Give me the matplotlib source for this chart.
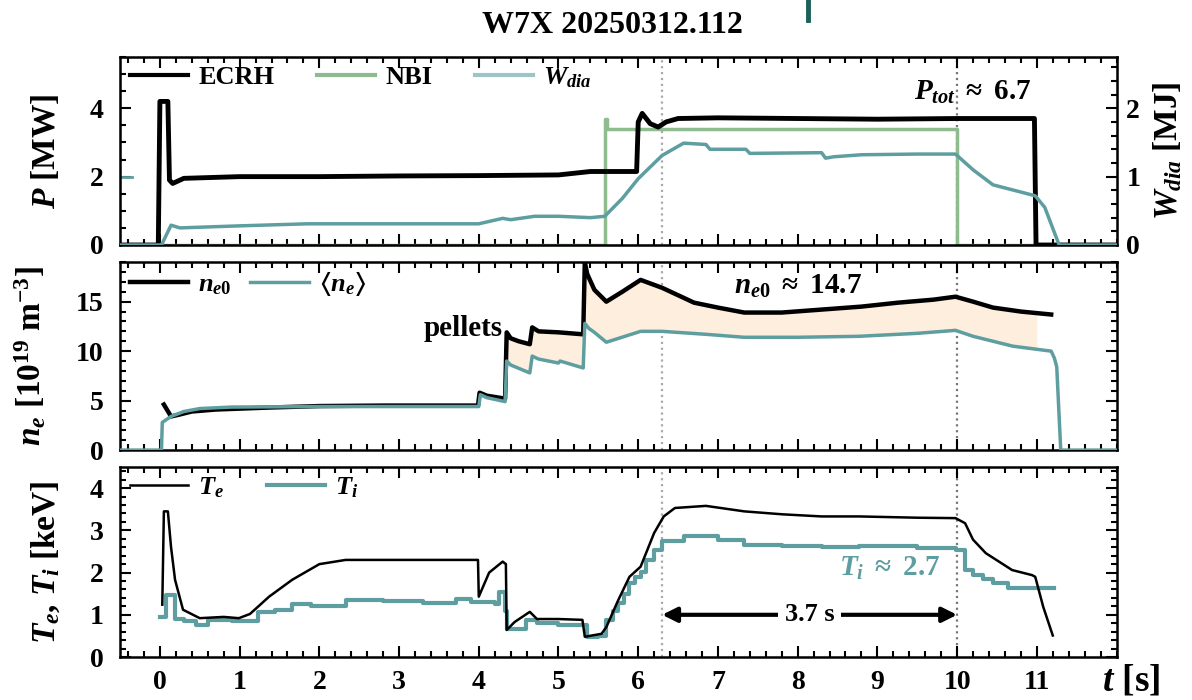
import numpy as np
import matplotlib
matplotlib.use("Agg")
import matplotlib.pyplot as plt
from matplotlib.ticker import MultipleLocator, FixedLocator
from matplotlib.lines import Line2D

plt.rcParams['font.family'] = ['Liberation Serif', 'DejaVu Serif']
plt.rcParams['font.weight'] = 'bold'
plt.rcParams['axes.labelweight'] = 'bold'
plt.rcParams['mathtext.fontset'] = 'custom'
plt.rcParams['mathtext.rm'] = 'Liberation Serif:bold'
plt.rcParams['mathtext.it'] = 'Liberation Serif:italic:bold'
plt.rcParams['mathtext.bf'] = 'Liberation Serif:bold'
plt.rcParams['mathtext.fallback'] = 'stix'

# colours
c_black = 'black'
c_nbi = '#8fbc8f'
c_teal = '#5f9ea0'
c_fill = '#fdeedd'

# ---- top panel: heating power and diamagnetic energy ----
ecrh_t = [-0.5, -0.02, 0.0, 0.05, 0.1, 0.12, 0.16, 0.3, 1.0, 2.0, 3.0, 4.0, 5.0, 5.4, 5.7, 5.98,
          6.0, 6.05, 6.15, 6.25, 6.35, 6.5, 7.0, 8.0, 9.0, 10.0, 10.97, 10.99, 12.0]
ecrh = [0, 0, 4.2, 4.2, 4.2, 1.9, 1.8, 1.95, 2.0, 2.0, 2.02, 2.03, 2.05, 2.15, 2.15, 2.15,
        3.6, 3.85, 3.55, 3.45, 3.6, 3.7, 3.72, 3.7, 3.68, 3.7, 3.7, 0, 0]

nbi_t = [-0.5, 5.58, 5.58, 5.61, 5.61, 10.0, 10.0, 12.0]
nbi = [0, 0, 3.7, 3.7, 3.4, 3.4, 0, 0]

wdia_t = [-0.5, 0.02, 0.14, 0.25, 0.5, 1.0, 1.85, 3.0, 4.0, 4.3, 4.4, 4.7, 5.0, 5.4, 5.58,
          5.8, 6.0, 6.3, 6.57, 6.85, 6.9, 7.35, 7.4, 8.3, 8.35, 8.45, 8.8, 9.5, 9.98,
          10.2, 10.45, 10.98, 11.1, 11.28, 12.0]
wdia = [0, 0, 0.29, 0.25, 0.26, 0.28, 0.31, 0.31, 0.31, 0.39, 0.37, 0.42, 0.42, 0.40, 0.42,
        0.68, 0.97, 1.31, 1.49, 1.47, 1.40, 1.40, 1.34, 1.35, 1.27, 1.29, 1.32, 1.33, 1.33,
        1.10, 0.88, 0.72, 0.55, 0, 0]

# ---- middle panel: densities ----
ne0_t = [0.05, 0.14, 0.25, 0.4, 0.7, 1.37, 2.0, 2.8, 3.5, 3.99, 4.01, 4.1, 4.33, 4.35, 4.4,
         4.5, 4.64, 4.67, 4.75, 5.0, 5.31, 5.33, 5.36, 5.45, 5.6, 5.8, 6.03, 6.3, 6.7, 7.0,
         7.33, 7.8, 8.3, 8.8, 9.26, 9.7, 9.98, 10.2, 10.45, 10.8, 11.18]
ne0 = [4.6, 3.4, 3.6, 3.9, 4.1, 4.3, 4.45, 4.5, 4.5, 4.5, 5.8, 5.5, 5.2, 11.9, 11.3,
       11.0, 10.7, 12.4, 12.0, 11.9, 11.7, 19.0, 17.8, 16.2, 15.0, 16.0, 17.2, 16.4, 14.9, 14.4,
       13.9, 13.9, 14.2, 14.5, 14.9, 15.2, 15.5, 15.0, 14.4, 14.0, 13.7]

nea_t = [-0.5, 0.02, 0.03, 0.14, 0.3, 0.5, 0.9, 2.0, 3.0, 4.0, 4.02, 4.1, 4.33, 4.35, 4.4,
         4.64, 4.67, 4.75, 5.0, 5.02, 5.31, 5.33, 5.38, 5.45, 5.6, 6.03, 6.3, 6.85, 7.33,
         8.0, 8.77, 9.5, 9.98, 10.2, 10.7, 11.18, 11.22, 11.25, 11.3, 12.0]
nea = [0, 0, 2.8, 3.4, 3.9, 4.2, 4.35, 4.4, 4.4, 4.4, 5.6, 5.3, 4.9, 9.0, 8.6,
       7.8, 9.5, 9.2, 8.8, 9.0, 8.3, 12.8, 12.3, 11.9, 10.9, 12.0, 12.0, 11.7, 11.4,
       11.4, 11.5, 11.8, 12.1, 11.5, 10.5, 10.0, 9.3, 8.4, 0, 0]

fill_start, fill_end = 4.35, 11.0

# ---- bottom panel: temperatures ----
te_t = [0.03, 0.05, 0.1, 0.14, 0.19, 0.29, 0.5, 0.8, 0.99, 1.13, 1.37, 1.66, 2.0, 2.33, 2.8,
        3.3, 3.99, 4.0, 4.13, 4.3, 4.34, 4.35, 4.45, 4.64, 4.73, 5.0, 5.3, 5.33, 5.54, 5.6,
        5.75, 5.89, 6.03, 6.2, 6.32, 6.46, 6.85, 7.33, 7.81, 8.3, 8.77, 9.5, 9.98, 10.1, 10.2,
        10.36, 10.69, 10.94, 10.98, 11.08, 11.2]
te = [1.24, 3.45, 3.45, 2.6, 1.83, 1.12, 0.92, 0.95, 0.92, 1.02, 1.43, 1.83, 2.2, 2.3, 2.3,
      2.3, 2.3, 1.43, 2.0, 2.26, 2.2, 0.64, 0.83, 1.07, 0.9, 0.9, 0.88, 0.48, 0.55, 0.71,
      1.35, 1.9, 2.14, 2.94, 3.33, 3.53, 3.58, 3.45, 3.38, 3.33, 3.33, 3.3, 3.29, 3.17, 2.78,
      2.46, 2.06, 1.94, 1.9, 1.19, 0.51]

ti_t = [0.0, 0.08, 0.19, 0.3, 0.45, 0.6, 0.9, 1.23, 1.45, 1.66, 1.9, 2.33, 2.8, 3.3, 3.72,
        3.9, 4.2, 4.25, 4.33, 4.35, 4.59, 4.73, 5.0, 5.36, 5.5, 5.6, 5.68, 5.75, 5.82, 5.89,
        5.96, 6.03, 6.1, 6.2, 6.3, 6.57, 7.0, 7.33, 7.8, 8.3, 8.77, 9.5, 9.98, 10.1, 10.2,
        10.32, 10.45, 10.64, 11.22]
ti = [0.95, 1.48, 0.9, 0.86, 0.76, 0.87, 0.85, 1.07, 1.12, 1.26, 1.22, 1.36, 1.32, 1.28, 1.38,
      1.3, 1.25, 1.55, 1.1, 0.67, 0.88, 0.8, 0.75, 0.48, 0.5, 0.87, 1.1, 1.27, 1.5, 1.75,
      1.9, 2.02, 2.3, 2.54, 2.74, 2.86, 2.78, 2.66, 2.62, 2.6, 2.62, 2.58, 2.54, 2.06, 1.94,
      1.85, 1.75, 1.63, 1.63]

t_flat0, t_flat1 = 6.3, 10.0   # flat-top window
flat_len = '3.7 s'
ptot_txt = r'$P_{tot}$ $\approx$ 6.7'
ne0_txt = r'$n_{e0}$ $\approx$ 14.7'
ti_txt = r'$T_i$ $\approx$ 2.7'
xticks = list(range(0, 12))

fig = plt.figure(figsize=(11.92, 7.0), dpi=100)
L, W = 0.1007, 0.836
ax1 = fig.add_axes([L, 0.650, W, 0.2686])
ax2 = fig.add_axes([L, 0.357, W, 0.2686])
ax3 = fig.add_axes([L, 0.0614, W, 0.2714])

# logo fragment at the top
fig.add_artist(Line2D([808/1192, 808/1192], [1.0, 1 - 20/700], color='#1d5f5a', lw=3.5))

tsize = 20
for ax in (ax1, ax2, ax3):
    ax.set_xlim(-0.5, 12)
    ax.xaxis.set_major_locator(FixedLocator(xticks))
    ax.xaxis.set_minor_locator(MultipleLocator(0.2))
    ax.tick_params(which='both', direction='in', top=True, right=True, labelsize=tsize, width=1.5)
    ax.tick_params(which='major', length=8)
    ax.tick_params(which='minor', length=4)
    ax.tick_params(axis='x', which='major', pad=9)
    ax.tick_params(axis='y', which='major', pad=12)
    for s in ax.spines.values():
        s.set_linewidth(1.8)
    ax.axvline(t_flat0, color='#aaaaaa', ls=':', lw=1.6, zorder=1)
    ax.axvline(t_flat1, color='#777777', ls=':', lw=1.6, zorder=1)
ax1.tick_params(labelbottom=False, right=False)
ax2.tick_params(labelbottom=False)

# top
ax1.plot(nbi_t, nbi, color=c_nbi, lw=2.5, zorder=2)
ax1.plot(ecrh_t, ecrh, color=c_black, lw=3.5, zorder=3)
ax1.set_ylim(0, 5.5)
ax1.yaxis.set_major_locator(MultipleLocator(2))
ax1.yaxis.set_minor_locator(MultipleLocator(0.5))
ax1.set_ylabel(r'$P$ [MW]', fontsize=24, labelpad=20)
ax1.axhline(2, xmin=0, xmax=0.012, color=c_teal, lw=2)

axw = ax1.twinx()
axw.plot(wdia_t, wdia, color=c_teal, lw=2.5, zorder=4)
axw.set_ylim(0, 2.75)
axw.yaxis.set_major_locator(MultipleLocator(1))
axw.yaxis.set_minor_locator(MultipleLocator(0.2))
axw.tick_params(which='both', direction='in', labelsize=tsize, width=1.5)
axw.tick_params(which='major', length=8, pad=7)
axw.tick_params(which='minor', length=4)
axw.set_ylabel(r'$W_{dia}$ [MJ]', fontsize=24, labelpad=8)

leg_kw = dict(loc='upper left', frameon=False, fontsize=19, handlelength=2.2,
              handletextpad=0.4, borderaxespad=0.2, bbox_to_anchor=(-0.006, 1.04))
hs = [Line2D([], [], color=c_black, lw=3), Line2D([], [], color=c_nbi, lw=3),
      Line2D([], [], color=c_teal, lw=3, alpha=0.6)]
ax1.legend(hs, ['ECRH', 'NBI', r'$W_{dia}$'], ncol=3, columnspacing=1.6, **leg_kw)
ax1.text(10.2, 4.47, ptot_txt, fontsize=21, ha='center', va='center')

# middle
grid = np.union1d(np.union1d(ne0_t, nea_t), [fill_start, fill_end])
grid = grid[(grid >= fill_start) & (grid <= fill_end)]
ax2.fill_between(grid, np.interp(grid, nea_t, nea), np.interp(grid, ne0_t, ne0),
                 color=c_fill, lw=0, zorder=1)
ax2.plot(ne0_t, ne0, color=c_black, lw=3.2, label=r'$n_{e0}$', zorder=3)
ax2.plot(nea_t, nea, color=c_teal, lw=2.5, label=r'$\langle n_e\rangle$', zorder=4)
ax2.set_ylim(0, 19)
ax2.yaxis.set_major_locator(MultipleLocator(5))
ax2.yaxis.set_minor_locator(MultipleLocator(1))
ax2.set_ylabel(r'$n_e$ [10$^{19}$ m$^{-3}$]', fontsize=24, labelpad=20)
ax2.legend(ncol=2, columnspacing=0.7, **leg_kw)
ax2.text(4.3, 12.3, 'pellets', fontsize=21, ha='right', va='center')
ax2.text(8.0, 16.5, ne0_txt, fontsize=21, ha='center', va='center')

# bottom
ax3.plot(te_t, te, color=c_black, lw=1.8, label=r'$T_e$', zorder=3)
ax3.plot(ti_t, ti, color=c_teal, lw=3, drawstyle='steps-post', label=r'$T_i$', zorder=2)
ax3.set_ylim(0, 4.5)
ax3.yaxis.set_major_locator(MultipleLocator(1))
ax3.yaxis.set_minor_locator(MultipleLocator(0.2))
ax3.set_ylabel(r'$T_e$, $T_i$ [keV]', fontsize=24, labelpad=20)
ax3.legend(ncol=2, columnspacing=1.6, **leg_kw)
ax3.annotate('', xy=(t_flat0, 1.0), xytext=(t_flat1, 1.0),
             arrowprops=dict(arrowstyle='<|-|>', lw=3, color='k', mutation_scale=22,
                             shrinkA=0, shrinkB=0))
ax3.text((t_flat0 + t_flat1) / 2, 1.0, flat_len, fontsize=19, ha='center', va='center',
         bbox=dict(facecolor='white', edgecolor='none', pad=5))
ax3.text(9.15, 2.1, ti_txt, fontsize=21, ha='center', va='center', color=c_teal)
ax3.text(11.82, -0.125, r'$t$ [s]', fontsize=27, ha='left', va='center',
         transform=ax3.get_xaxis_transform())

fig.align_ylabels([ax1, ax2, ax3])
fig.text(0.514, 0.963, 'W7X 20250312.112', fontsize=23, ha='center', va='center')

fig.savefig('out.png', dpi=100)
